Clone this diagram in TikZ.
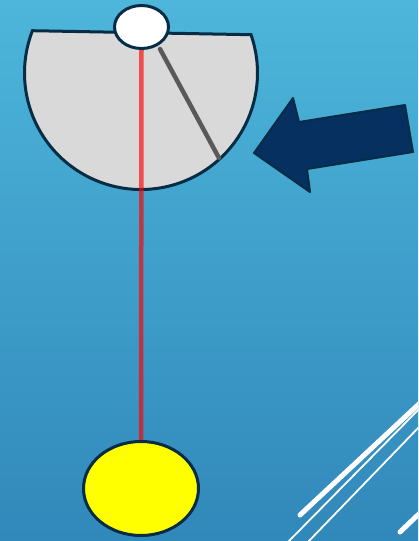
\documentclass[tikz,border=0pt]{standalone}
\usetikzlibrary{shapes.geometric}
\definecolor{skytop}{RGB}{77,182,218}
\definecolor{skybottom}{RGB}{49,136,186}
\definecolor{rim}{RGB}{6,44,70}
\definecolor{navy}{RGB}{5,48,96}
\definecolor{bowlgray}{RGB}{217,217,217}
\definecolor{rodgray}{RGB}{89,89,89}
\definecolor{bobyellow}{RGB}{255,255,0}
\begin{document}
\begin{tikzpicture}[x=1pt, y=1pt,
    mass/.style={ellipse, draw=rim, line width=3pt, inner sep=0pt},
    string/.style={draw=red, draw opacity=0.65, line width=4.5pt},
    stripe/.style={white, line cap=round}]
    \useasboundingbox (0,0) rectangle (418,-541);
    \shade [top color=skytop, bottom color=skybottom] (0,0) rectangle (418,-541);

    % corner stripes
    \begin{scope}
        \clip (0,0) rectangle (418,-541);
        \draw [stripe, line width=5pt] (300,-515) -- (420,-403);
        \draw [stripe, line width=1.8pt] (287,-543) -- (420,-408);
        \draw [stripe, line width=1.8pt] (307,-543) -- (420,-426);
        \draw [stripe, line width=5pt] (400,-532) -- (422,-511);
    \end{scope}

    % protractor
    \draw [fill=bowlgray, draw=rim, line width=3pt] (32.5,-30.7) -- (251,-34.7)
        arc [start angle=19.2, end angle=-201.3, radius=116.5pt] -- cycle;
    \coordinate (rodtop) at (160,-49);
    \coordinate (rodend) at (219,-158);
    \draw [rodgray, line width=4.5pt, line cap=round] (rodtop) -- (rodend);

    % pendulum
    \node [mass, fill=white, minimum width=54pt, minimum height=43pt] (pivot) at (141.5,-27) {};
    \node [mass, fill=bobyellow, minimum width=115pt, minimum height=94pt] (bob) at (141,-488.5) {};
    \draw [string] (pivot.south) -- (bob.north);

    % arrow
    \draw [fill=navy, draw=rim, line width=2pt, line join=round]
        (254,-153) -- (293,-98) -- (299,-122) -- (405,-105)
        -- (413,-152) -- (307,-169) -- (310,-192) -- cycle;
\end{tikzpicture}
\end{document}
